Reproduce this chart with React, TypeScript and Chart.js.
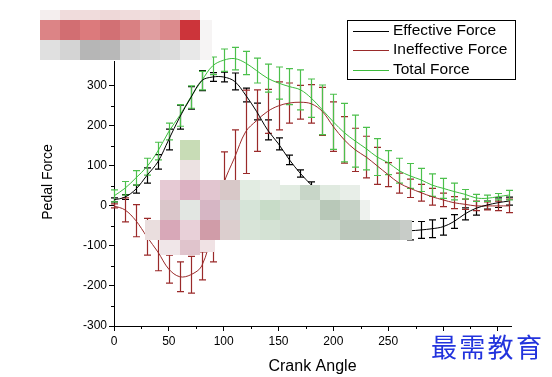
import React, { useEffect, useRef } from 'react';
import { Chart, registerables } from 'chart.js';

Chart.register(...registerables);

// ---------- data ----------
const angles = [0, 10, 20, 30, 40, 50, 60, 70, 80, 90, 100, 110, 120, 130, 140, 150, 160, 170, 180, 190, 200, 210, 220, 230, 240, 250, 260, 270, 280, 290, 300, 310, 320, 330, 340, 350, 360];

const effective = [15, 22, 42, 76, 110, 166, 222, 270, 313, 322, 322, 311, 277, 236, 190, 155, 115, 81, 52, 25, 0, -20, -35, -45, -53, -58, -61, -62, -60, -57, -52, -39, -20, -6, 2, 8, 12];
const effectiveErr = [5, 6, 10, 19, 18, 26, 30, 28, 25, 11, 12, 21, 17, 21, 25, 15, 12, 9, 8, 10, 10, 10, 10, 10, 10, 10, 10, 23, 21, 22, 21, 17, 15, 17, 10, 12, 10];

const ineffective = [0, -10, -37, -77, -115, -158, -177, -172, -150, -60, 55, 121, 185, 213, 236, 250, 257, 259, 255, 236, 198, 165, 140, 122, 100, 78, 57, 44, 33, 23, 15, 8, 4, 0, 0, 0, 0];
const ineffectiveErr = [5, 30, 40, 46, 47, 35, 37, 46, 35, 80, 80, 69, 104, 77, 55, 60, 50, 42, 48, 60, 62, 58, 54, 52, 46, 30, 25, 23, 21, 21, 17, 15, 13, 12, 10, 12, 17];

const total = [25, 44, 70, 98, 137, 186, 226, 272, 313, 350, 364, 368, 357, 338, 319, 307, 298, 290, 269, 240, 210, 183, 162, 143, 122, 108, 88, 75, 65, 52, 44, 36, 29, 20, 19, 23, 27];
const totalErr = [15, 17, 18, 21, 22, 21, 27, 28, 23, 22, 28, 28, 29, 31, 35, 40, 45, 50, 48, 62, 69, 73, 65, 53, 46, 30, 31, 31, 29, 28, 25, 21, 12, 9, 8, 8, 12];

const seriesNames = ['Effective Force', 'Ineffective Force', 'Total Force'];
const xTickValues = [0, 25, 50, 75, 100, 125, 150, 175, 200, 225, 250, 275, 300, 325, 350];
const yTickValues = [-300, -250, -200, -150, -100, -50, 0, 50, 100, 150, 200, 250, 300];
const xTitle = 'Crank Angle';
const yTitle = 'Pedal Force';
const watermarkText = '最需教育';

// ---------- styling ----------
const COLORS = ['#000000', '#9a2a2a', '#3cbc3c'];
const BAR_COLORS = ['#000000', '#9a2a2a', '#4cc04c'];
const FONT = '"Liberation Sans", Arial, sans-serif';

// pixelated redaction overlays seen in the picture: [x, y, w, h, colour]
const redactionTop: [number, number, number, number, string][] = [
  [40, 10, 20, 10, '#f4eeee'], [60, 10, 20, 10, '#f0dcdc'], [80, 10, 20, 10, '#f0dcdc'], [100, 10, 20, 10, '#eed8d8'],
  [120, 10, 20, 10, '#f0dcdc'], [140, 10, 20, 10, '#f0dede'], [160, 10, 20, 10, '#eed8d8'], [180, 10, 20, 10, '#f0dcdc'],
  [40, 20, 20, 20, '#dc8486'], [60, 20, 20, 20, '#d26e72'], [80, 20, 20, 20, '#dc7a7c'], [100, 20, 20, 20, '#d27074'],
  [120, 20, 20, 20, '#d98082'], [140, 20, 20, 20, '#e09ea0'], [160, 20, 20, 20, '#dc8a8c'], [180, 20, 20, 20, '#cc343a'],
  [40, 40, 20, 20, '#e0e0e0'], [60, 40, 20, 20, '#d4d4d4'], [80, 40, 20, 20, '#b6b6b6'], [100, 40, 20, 20, '#b8b8b8'],
  [120, 40, 20, 20, '#d4d4d4'], [140, 40, 20, 20, '#d8d8d8'], [160, 40, 20, 20, '#dcdcdc'], [180, 40, 20, 20, '#e8e8e8'],
  [200, 20, 12, 40, '#f6f4f4'],
];
const redactionMid: [number, number, number, number, string][] = [
  [180, 140, 20, 20, '#c8dcb6'], [180, 160, 20, 20, '#ece2e2'],
  [160, 180, 20, 20, '#e6cad4'], [180, 180, 20, 20, '#dcb2c2'], [200, 180, 20, 20, '#e2c6d0'], [220, 180, 20, 20, '#d8c8c8'],
  [240, 180, 20, 20, '#e2ece2'], [260, 180, 20, 20, '#e8eee8'], [280, 185, 20, 15, '#e2ece2'], [300, 185, 20, 15, '#c8d6c8'],
  [320, 185, 20, 15, '#e0eae0'], [340, 185, 20, 15, '#e8eee8'],
  [160, 200, 20, 20, '#dac6ca'], [180, 200, 20, 20, '#e2e6e2'], [200, 200, 20, 20, '#d6b6c4'], [220, 200, 20, 20, '#d8d2d2'],
  [240, 200, 20, 20, '#d6e4d8'], [260, 200, 20, 20, '#c8dcc8'], [280, 200, 20, 20, '#d2ded2'], [300, 200, 20, 20, '#d4e0d4'],
  [320, 200, 20, 20, '#b8c8b8'], [340, 200, 20, 20, '#c6d2c6'], [360, 200, 10, 20, '#eef2ee'],
  [145, 220, 15, 20, '#eadede'], [160, 220, 20, 20, '#d8a8b8'], [180, 220, 20, 20, '#e8d0d8'], [200, 220, 20, 20, '#d09ca8'],
  [220, 220, 20, 20, '#dccece'], [240, 220, 20, 20, '#d8e4d8'], [260, 220, 20, 20, '#d4e2d4'], [280, 220, 20, 20, '#d0dcd0'],
  [300, 220, 20, 20, '#d2ded2'], [320, 220, 20, 20, '#d0dcd0'], [340, 220, 20, 20, '#bcc8bc'], [360, 220, 20, 20, '#bcc8bc'],
  [380, 220, 20, 20, '#c0c8c0'], [400, 220, 12, 20, '#c8ccc8'],
  [160, 240, 20, 15, '#f0e6e8'], [180, 240, 20, 15, '#e0c4cc'], [200, 240, 15, 12, '#f0e2e4'],
];

const values = [effective, ineffective, total];
const errors = [effectiveErr, ineffectiveErr, totalErr];

const decorPlugin = {
  id: 'decor',
  beforeDatasetsDraw(chart: any) {
    const { ctx, scales } = chart;
    const xs = scales.x;
    const ys = scales.y;
    ctx.save();
    values.forEach((vals, si) => {
      ctx.strokeStyle = BAR_COLORS[si];
      ctx.lineWidth = 1.2;
      vals.forEach((v, i) => {
        const x = Math.round(xs.getPixelForValue(angles[i])) + 0.5;
        const y1 = ys.getPixelForValue(v - errors[si][i]);
        const y2 = ys.getPixelForValue(v + errors[si][i]);
        ctx.beginPath();
        ctx.moveTo(x, y1);
        ctx.lineTo(x, y2);
        ctx.moveTo(x - 3.5, y1);
        ctx.lineTo(x + 3.5, y1);
        ctx.moveTo(x - 3.5, y2);
        ctx.lineTo(x + 3.5, y2);
        ctx.stroke();
      });
    });
    ctx.restore();
  },
  afterDraw(chart: any) {
    const { ctx, scales, chartArea } = chart;
    const xs = scales.x;
    const ys = scales.y;
    ctx.save();
    // minor ticks
    ctx.strokeStyle = '#000';
    ctx.lineWidth = 1;
    ctx.beginPath();
    xTickValues.filter((v) => v % 50 !== 0).forEach((v) => {
      const x = Math.round(xs.getPixelForValue(v)) + 0.5;
      ctx.moveTo(x, chartArea.bottom);
      ctx.lineTo(x, chartArea.bottom + 3);
    });
    yTickValues.filter((v) => v % 100 !== 0).forEach((v) => {
      const y = Math.round(ys.getPixelForValue(v)) + 0.5;
      ctx.moveTo(chartArea.left - 3, y);
      ctx.lineTo(chartArea.left, y);
    });
    ctx.stroke();

    // axis titles
    ctx.fillStyle = '#000';
    ctx.textAlign = 'center';
    ctx.textBaseline = 'middle';
    ctx.font = `16px ${FONT}`;
    ctx.fillText(xTitle, (chartArea.left + chartArea.right) / 2, 367);
    ctx.save();
    ctx.translate(48, 182);
    ctx.rotate(-Math.PI / 2);
    ctx.font = `14px ${FONT}`;
    ctx.fillText(yTitle, 0, 0);
    ctx.restore();

    // redaction mosaics
    [...redactionTop, ...redactionMid].forEach(([x, y, w, h, c]) => {
      ctx.fillStyle = c;
      ctx.fillRect(x, y, w, h);
    });

    // legend
    ctx.strokeStyle = '#000';
    ctx.lineWidth = 1;
    ctx.strokeRect(347.5, 20.5, 168, 59);
    ctx.font = `15.5px ${FONT}`;
    ctx.textAlign = 'left';
    ctx.textBaseline = 'middle';
    seriesNames.forEach((name, i) => {
      const y = 30.5 + i * 19.5;
      ctx.strokeStyle = COLORS[i];
      ctx.beginPath();
      ctx.moveTo(353, Math.round(y) + 0.5);
      ctx.lineTo(389, Math.round(y) + 0.5);
      ctx.stroke();
      ctx.fillStyle = '#000';
      ctx.fillText(name, 393, y);
    });

    // watermark
    ctx.fillStyle = '#ffffff';
    ctx.fillRect(428, 333, 120, 29);
    ctx.fillStyle = '#2233dd';
    ctx.font = `26px "Noto Sans CJK SC", sans-serif`;
    ctx.textAlign = 'left';
    ctx.textBaseline = 'middle';
    Array.from(watermarkText).forEach((ch, i) => {
      ctx.fillText(ch, 431 + i * 28.3, 347);
    });
    ctx.restore();
  },
};

export default function App() {
  const canvasRef = useRef<HTMLCanvasElement | null>(null);

  useEffect(() => {
    const canvas = canvasRef.current;
    if (!canvas) return;
    const chart = new Chart(canvas, {
      type: 'line',
      data: {
        datasets: values.map((vals, si) => ({
          label: seriesNames[si],
          data: angles.map((a, i) => ({ x: a, y: vals[i] })),
          borderColor: COLORS[si],
          backgroundColor: COLORS[si],
          borderWidth: 1,
          pointRadius: 0,
          tension: 0.35,
          fill: false,
          clip: false as any,
        })),
      },
      options: {
        responsive: false,
        animation: false,
        events: [],
        layout: { padding: { top: 61, right: 41, left: 0, bottom: 0 } },
        plugins: { legend: { display: false }, tooltip: { enabled: false } },
        scales: {
          x: {
            type: 'linear',
            min: 0,
            max: 362,
            afterBuildTicks: (s: any) => {
              s.ticks = xTickValues.map((v) => ({ value: v }));
            },
            afterFit: (s: any) => {
              s.height = 51;
            },
            ticks: {
              autoSkip: false,
              maxRotation: 0,
              padding: 3,
              color: '#000',
              font: { family: FONT, size: 12 },
              callback: (v: any) => (Number(v) % 50 === 0 ? String(v) : ''),
            },
            grid: {
              drawOnChartArea: false,
              drawTicks: true,
              tickLength: 5,
              color: (c: any) => (c.tick && c.tick.value % 50 === 0 ? '#000' : 'rgba(0,0,0,0)'),
            },
            border: { display: true, color: '#000', width: 1 },
          },
          y: {
            type: 'linear',
            min: -300,
            max: 362,
            afterBuildTicks: (s: any) => {
              s.ticks = yTickValues.map((v) => ({ value: v }));
            },
            afterFit: (s: any) => {
              s.width = 114;
            },
            ticks: {
              autoSkip: false,
              padding: 2,
              color: '#000',
              font: { family: FONT, size: 12 },
              callback: (v: any) => (Number(v) % 100 === 0 ? String(v) : ''),
            },
            grid: {
              drawOnChartArea: false,
              drawTicks: true,
              tickLength: 5,
              color: (c: any) => (c.tick && c.tick.value % 100 === 0 ? '#000' : 'rgba(0,0,0,0)'),
            },
            border: { display: true, color: '#000', width: 1 },
          },
        },
      } as any,
      plugins: [decorPlugin],
    });
    return () => chart.destroy();
  }, []);

  return (
    <div style={{ position: 'fixed', left: 0, top: 0, width: 552, height: 377, background: '#fff' }}>
      <canvas ref={canvasRef} width={552} height={377} style={{ display: 'block' }} />
    </div>
  );
}
